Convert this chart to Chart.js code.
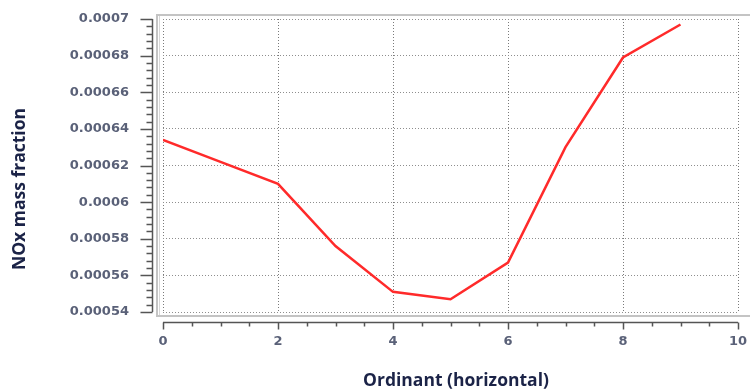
<!DOCTYPE html>
<html>
<head>
<meta charset="utf-8">
<script src="https://cdn.jsdelivr.net/npm/chart.js@4/dist/chart.umd.min.js"></script>
<style>
  html, body { margin: 0; padding: 0; background: #fff; }
  #wrap { width: 750px; height: 392px; }
</style>
</head>
<body>
<div id="wrap"><canvas id="chart-nox"></canvas></div>
<script>
// values
var xValues = [0, 1, 2, 3, 4, 5, 6, 7, 8, 9];
var noxValues = [0.000634, 0.000622, 0.000610, 0.000576, 0.000551, 0.000547, 0.000567, 0.000630, 0.000679, 0.000697];

var xTickValues = [0, 2, 4, 6, 8, 10];
var xTickLabels = ["0", "2", "4", "6", "8", "10"];
var yTickValues = [0.00054, 0.00056, 0.00058, 0.0006, 0.00062, 0.00064, 0.00066, 0.00068, 0.0007];
var yTickLabels = ["0.00054", "0.00056", "0.00058", "0.0006", "0.00062", "0.00064", "0.00066", "0.00068", "0.0007"];

var xTitle = "Ordinant (horizontal)";
var yTitle = "NOx mass fraction";

var tickColor = "#5a6178";
var titleColor = "#1b2347";

// frame, offset axes, minor ticks and the axis titles
var decorPlugin = {
    id: "decor",
    beforeDatasetsDraw: function (chart) {
        var ctx = chart.ctx;
        var a = chart.chartArea;
        ctx.save();
        ctx.strokeStyle = "#c4c4c4";
        ctx.lineWidth = 2;
        ctx.strokeRect(a.left - 6, a.top - 4, a.right - a.left + 40, a.bottom - a.top + 8);
        ctx.strokeStyle = "#d8d8d8";
        ctx.lineWidth = 1;
        ctx.beginPath();
        ctx.moveTo(a.left - 3.5, a.top - 3);
        ctx.lineTo(a.left - 3.5, a.bottom + 3);
        ctx.stroke();
        ctx.restore();
    },
    afterDraw: function (chart) {
        var ctx = chart.ctx;
        var a = chart.chartArea;
        var xs = chart.scales.x;
        var ys = chart.scales.y;
        ctx.save();
        ctx.strokeStyle = "#555";
        ctx.lineWidth = 1.5;

        // y axis
        var ax = a.left - 10.5;
        ctx.beginPath();
        ctx.moveTo(ax, ys.getPixelForValue(ys.max));
        ctx.lineTo(ax, ys.getPixelForValue(ys.min));
        for (var i = 0; i <= 40; i++) {
            var v = ys.min + (ys.max - ys.min) * i / 40;
            var py = Math.round(ys.getPixelForValue(v)) + 0.5;
            var len = (i % 5 === 0) ? 12 : 6;
            ctx.moveTo(ax, py);
            ctx.lineTo(ax - len, py);
        }
        ctx.stroke();

        // x axis
        var ay = a.bottom + 10.5;
        ctx.beginPath();
        ctx.moveTo(xs.getPixelForValue(xs.min), ay);
        ctx.lineTo(xs.getPixelForValue(xs.max), ay);
        for (var j = 0; j <= 20; j++) {
            var px = Math.round(xs.getPixelForValue(j * 0.5)) + 0.5;
            var l = (j % 4 === 0) ? 7 : 4;
            ctx.moveTo(px, ay);
            ctx.lineTo(px, ay + l);
        }
        ctx.stroke();

        // titles
        ctx.fillStyle = titleColor;
        ctx.font = "bold 17.5px 'Open Sans'";
        ctx.textAlign = "center";
        ctx.textBaseline = "middle";
        ctx.fillText(xTitle, 456, 381);
        ctx.translate(20, 189);
        ctx.rotate(-Math.PI / 2);
        ctx.fillText(yTitle, 0, 0);
        ctx.restore();
    }
};

var ctx = document.getElementById("chart-nox").getContext("2d");
var chart = new Chart(ctx, {
    type: "line",
    data: {
        datasets: [{
            label: "NOx",
            data: xValues.map(function (x, i) { return { x: x, y: noxValues[i] }; }),
            borderColor: "#ff2a2a",
            borderWidth: 2.5,
            pointRadius: 0,
            tension: 0,
            fill: false
        }]
    },
    options: {
        responsive: true,
        maintainAspectRatio: false,
        animation: false,
        layout: { padding: { top: 19, right: 12, left: 0, bottom: 0 } },
        plugins: {
            legend: { display: false },
            tooltip: { enabled: false }
        },
        scales: {
            x: {
                type: "linear",
                min: 0,
                max: 10,
                afterBuildTicks: function (scale) {
                    scale.ticks = xTickValues.map(function (v) { return { value: v }; });
                },
                afterFit: function (scale) {
                    scale.height = 80;
                    scale.paddingLeft = 0;
                    scale.paddingRight = 0;
                },
                border: { display: false, dash: [1, 2] },
                grid: {
                    drawTicks: false,
                    color: "#7a7a7a",
                    lineWidth: 1
                },
                ticks: {
                    padding: 22,
                    color: tickColor,
                    maxRotation: 0,
                    font: { family: "DejaVu Sans", size: 13, weight: "bold" },
                    callback: function (value, index) { return xTickLabels[index]; }
                }
            },
            y: {
                min: 0.00054,
                max: 0.0007,
                afterBuildTicks: function (scale) {
                    scale.ticks = yTickValues.map(function (v) { return { value: v }; });
                },
                afterFit: function (scale) {
                    scale.width = 163;
                    scale.paddingTop = 0;
                    scale.paddingBottom = 0;
                },
                border: { display: false, dash: [1, 2] },
                grid: {
                    drawTicks: false,
                    color: "#8e8e8e",
                    lineWidth: 1
                },
                ticks: {
                    padding: 34,
                    color: tickColor,
                    font: { family: "DejaVu Sans", size: 13, weight: "bold" },
                    callback: function (value, index) { return yTickLabels[index]; }
                }
            }
        }
    },
    plugins: [decorPlugin]
});
</script>
</body>
</html>
